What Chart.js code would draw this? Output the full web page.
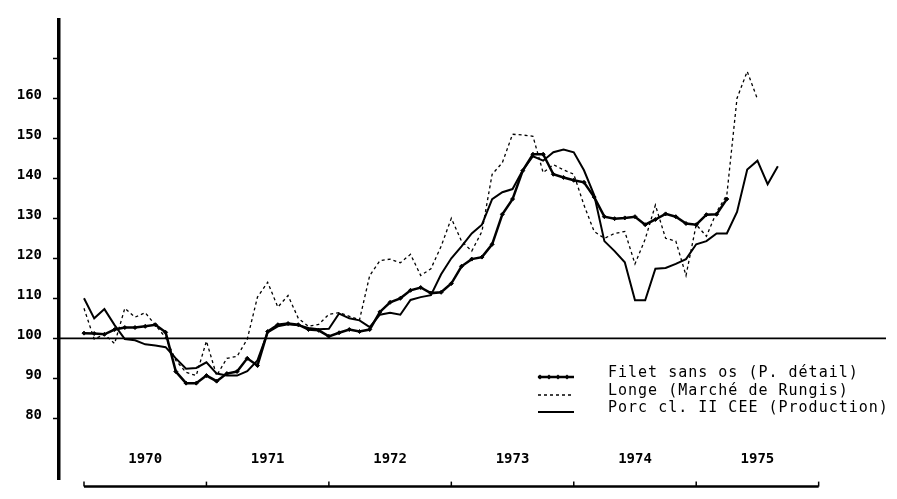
<!DOCTYPE html>
<html>
<head>
<meta charset="utf-8">
<title>Prix du porc 1970-1975</title>
<script src="https://cdn.jsdelivr.net/npm/chart.js@4"></script>
<style>
  html, body { margin: 0; padding: 0; background: #fff; }
  #chart { display: block; }
</style>
</head>
<body>
<canvas id="chart" width="897" height="499"></canvas>
<script>
// one value per month, starting January 1970
const years = ["1970", "1971", "1972", "1973", "1974", "1975"];
const yTicks = [80, 90, 100, 110, 120, 130, 140, 150, 160, 170];
const yTickLabels = ["80", "90", "100", "110", "120", "130", "140", "150", "160", ""];
const baseValue = 100;

const filetValues = [
    101.3, 101.2, 101.0, 102.2, 102.7, 102.7, 103.0, 103.4, 101.5, 91.7, 88.8, 88.8,
    90.7, 89.3, 91.2, 91.7, 95.0, 93.2, 101.7, 103.4, 103.7, 103.4, 102.2, 102.0,
    100.5, 101.4, 102.2, 101.7, 102.2, 106.6, 109.0, 110.0, 112.0, 112.7, 111.3, 111.5,
    113.7, 118.0, 119.8, 120.3, 123.5, 131.0, 134.8, 141.9, 146.0, 146.0, 141.0, 140.2,
    139.5, 139.0, 135.3, 130.4, 129.9, 130.1, 130.4, 128.4, 129.7, 131.1, 130.4, 128.7,
    128.4, 130.9, 131.0, 134.8
];
const longeValues = [
    107.5, 99.8, 101.0, 98.7, 107.5, 105.3, 106.4, 103.3, 100.2, 94.5, 91.5, 90.7,
    99.3, 90.7, 95.0, 95.5, 99.8, 110.3, 114.0, 107.8, 110.7, 105.0, 103.0, 103.5,
    106.0, 106.4, 105.5, 104.6, 115.7, 119.4, 119.8, 118.9, 121.0, 115.7, 117.4, 123.0,
    130.0, 124.3, 121.8, 126.7, 141.0, 143.9, 151.0, 150.8, 150.5, 141.4, 143.4, 142.1,
    141.0, 133.3, 126.7, 125.0, 126.2, 126.7, 118.6, 124.8, 133.3, 125.0, 124.3, 115.7,
    128.4, 125.5, 131.6, 135.8, 160.0, 166.7, 159.8
];
const porcValues = [
    110.0, 105.0, 107.3, 103.3, 99.8, 99.5, 98.5, 98.2, 97.8, 95.0, 92.4, 92.6,
    94.0, 91.2, 90.7, 90.7, 91.8, 94.5, 101.5, 103.0, 103.5, 103.3, 102.6, 102.3,
    102.4, 106.2, 105.0, 104.5, 102.8, 105.9, 106.4, 105.9, 109.6, 110.3, 110.8, 116.0,
    120.0, 123.0, 126.2, 128.4, 134.8, 136.5, 137.3, 142.0, 145.5, 144.4, 146.5, 147.2,
    146.5, 142.0, 135.8, 124.3, 121.8, 119.0, 109.5, 109.5, 117.4, 117.6, 118.6, 119.8,
    123.5, 124.3, 126.2, 126.2, 131.6, 142.2, 144.4, 138.5, 143.0
];

const toPoints = values => values.map((v, i) => ({ x: i, y: v }));

document.addEventListener("DOMContentLoaded", () => {
    const canvas = document.getElementById("chart");
    const ink = "#000";
    const monoFont = "'DejaVu Sans Mono', 'Liberation Mono', monospace";

    const axisDecor = {
        id: "axisDecor",
        beforeDatasetsDraw(chart) {
            const { ctx, chartArea, scales: { x, y } } = chart;
            ctx.save();
            ctx.strokeStyle = ink;

            const yBase = y.getPixelForValue(baseValue);
            ctx.lineWidth = 1.6;
            ctx.beginPath();
            ctx.moveTo(chartArea.left, yBase);
            ctx.lineTo(chartArea.right, yBase);
            ctx.stroke();

            // time axis below the plot, ticks on year boundaries
            const yAxis = chartArea.bottom + 7;
            const end = years.length * 12;
            ctx.lineWidth = 2.5;
            ctx.beginPath();
            ctx.moveTo(x.getPixelForValue(0), yAxis);
            ctx.lineTo(x.getPixelForValue(end), yAxis);
            ctx.stroke();
            ctx.lineWidth = 1.5;
            for (let i = 0; i <= years.length; i++) {
                const px = x.getPixelForValue(i * 12);
                ctx.beginPath();
                ctx.moveTo(px, yAxis);
                ctx.lineTo(px, yAxis - 5);
                ctx.stroke();
            }

            // year names sit above that axis, mid-year
            ctx.fillStyle = ink;
            ctx.font = "bold 14px " + monoFont;
            ctx.textAlign = "center";
            ctx.textBaseline = "middle";
            years.forEach((label, i) => {
                ctx.fillText(label, x.getPixelForValue(i * 12 + 6), chartArea.bottom - 20);
            });
            ctx.restore();
        }
    };

    const sideLegend = {
        id: "sideLegend",
        afterDraw(chart) {
            const { ctx } = chart;
            const rows = [373, 391, 408];
            const x0 = 538, x1 = 574, textX = 608;
            ctx.save();
            chart.data.datasets.forEach((ds, i) => {
                const ly = rows[i] + 4;
                ctx.strokeStyle = ink;
                ctx.lineWidth = ds.borderWidth;
                ctx.setLineDash(ds.borderDash || []);
                ctx.beginPath();
                ctx.moveTo(x0, ly);
                ctx.lineTo(x1, ly);
                ctx.stroke();
                ctx.setLineDash([]);
                if (ds.pointRadius > 0) {
                    ctx.fillStyle = ink;
                    for (let px = x0 + 2; px <= x1; px += 9) {
                        const r = ds.pointRadius + 0.5;
                        ctx.beginPath();
                        ctx.moveTo(px, ly - r);
                        ctx.lineTo(px + r, ly);
                        ctx.lineTo(px, ly + r);
                        ctx.lineTo(px - r, ly);
                        ctx.closePath();
                        ctx.fill();
                    }
                }
                ctx.fillStyle = ink;
                ctx.font = "15px " + monoFont;
                ctx.letterSpacing = "1px";
                ctx.textBaseline = "middle";
                ctx.textAlign = "left";
                ctx.fillText(ds.label, textX, rows[i]);
            });
            ctx.restore();
        }
    };

    new Chart(canvas, {
        type: "line",
        data: {
            datasets: [
                {
                    label: "Filet sans os (P. détail)",
                    data: toPoints(filetValues),
                    borderColor: ink,
                    borderWidth: 2.5,
                    pointStyle: "rectRot",
                    pointRadius: 2,
                    pointBorderWidth: 1,
                    pointBackgroundColor: ink,
                    pointBorderColor: ink,
                    tension: 0
                },
                {
                    label: "Longe (Marché de Rungis)",
                    data: toPoints(longeValues),
                    borderColor: ink,
                    borderWidth: 1.3,
                    borderDash: [3, 3],
                    pointRadius: 0,
                    tension: 0
                },
                {
                    label: "Porc cl. II CEE (Production)",
                    data: toPoints(porcValues),
                    borderColor: ink,
                    borderWidth: 2,
                    pointRadius: 0,
                    tension: 0
                }
            ]
        },
        options: {
            responsive: false,
            animation: false,
            layout: { padding: { top: 14, right: 11, left: 0, bottom: 0 } },
            plugins: {
                legend: { display: false },
                tooltip: { enabled: false }
            },
            scales: {
                x: {
                    type: "linear",
                    min: -2.45,
                    max: 78.6,
                    border: { display: false },
                    grid: { display: false, drawTicks: false },
                    ticks: { display: false },
                    afterFit: scale => { scale.height = 16; }
                },
                y: {
                    min: 64.7,
                    max: 179.7,
                    border: { display: true, color: ink, width: 3.5 },
                    grid: {
                        drawOnChartArea: false,
                        tickLength: 6,
                        tickWidth: 1.5,
                        tickColor: ink
                    },
                    afterBuildTicks: scale => {
                        scale.ticks = yTicks.map(v => ({ value: v }));
                    },
                    afterFit: scale => { scale.width = 59; },
                    ticks: {
                        autoSkip: false,
                        padding: 11,
                        labelOffset: -3,
                        color: ink,
                        font: { family: monoFont, size: 14, weight: "bold" },
                        callback: (value, index) => yTickLabels[index]
                    }
                }
            }
        },
        plugins: [axisDecor, sideLegend]
    });
});
</script>
</body>
</html>
